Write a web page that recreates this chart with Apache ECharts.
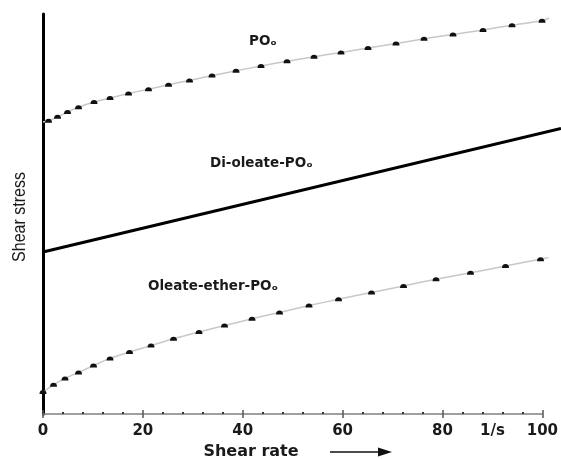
<!DOCTYPE html>
<html>
<head>
<meta charset="utf-8">
<script src="https://cdn.jsdelivr.net/npm/echarts@6/dist/echarts.min.js"></script>
<style>
  html, body { margin: 0; padding: 0; background: #fff; }
  #chart { width: 561px; height: 459px; }
</style>
</head>
<body>
<div id="chart"></div>
<script>
// PO0 curve (x = shear rate, y = shear stress in arbitrary units 0..100)
const xTop = [0, 1.1, 2.9, 4.9, 7.1, 10.2, 13.4, 17.1, 21.1, 25.1, 29.3, 33.8, 38.6, 43.6, 48.8, 54.2, 59.6, 65, 70.6, 76.2, 82, 88, 93.8, 99.8, 101.2];
const yTop = [73, 73.3, 74.3, 75.5, 76.7, 78, 79, 80.1, 81.2, 82.3, 83.4, 84.6, 85.8, 87, 88.2, 89.3, 90.4, 91.5, 92.6, 93.8, 94.9, 96, 97.2, 98.3, 99];

// Di-oleate-PO0 straight line
const xDi = [0, 103.6];
const yDi = [40.5, 71.4];

// Oleate-ether-PO0 curve
const xLow = [0, 2.1, 4.4, 7.1, 10.1, 13.4, 17.3, 21.6, 26.1, 31.2, 36.3, 41.8, 47.3, 53.2, 59.1, 65.7, 72.1, 78.6, 85.5, 92.5, 99.5, 101.1];
const yLow = [5.5, 7.3, 8.9, 10.4, 12.1, 13.9, 15.5, 17.1, 18.8, 20.5, 22.1, 23.8, 25.4, 27.1, 28.7, 30.4, 32, 33.7, 35.3, 37, 38.7, 39.1];

// x axis labels
const labelVals = [0, 20, 40, 60, 80, 90, 100];
const labelText = ['0', '20', '40', '60', '80', '1/s', '100'];

const curveNames = ['POₒ', 'Di-oleate-POₒ', 'Oleate-ether-POₒ'];

const dome = 'path://M0,10 A10,9 0 0 1 20,10 Z';

function toData(xs, ys, bare) {
  return xs.map((x, i) => {
    const item = { value: [x, ys[i]] };
    if (bare.includes(i)) item.symbol = 'none';
    return item;
  });
}

function txt(text, x, y, size, align) {
  return {
    type: 'text', x: x, y: y,
    style: {
      text: text, fontFamily: 'DejaVu Sans', fontWeight: 'bold', fontSize: size,
      fill: '#1a1a1a', align: align || 'left', verticalAlign: 'middle'
    }
  };
}

const chart = echarts.init(document.getElementById('chart'));

chart.setOption({
  animation: false,
  grid: [
    { left: 43, top: 14, right: 0, height: 400 },
    { left: 43, top: 14, width: 500, height: 400 }
  ],
  xAxis: [
    { gridIndex: 0, type: 'value', min: 0, max: 103.6, show: false },
    {
      gridIndex: 1, type: 'value', min: 0, max: 100, interval: 20, position: 'bottom',
      axisLine: { show: true, lineStyle: { color: '#808080', width: 1.5 } },
      axisTick: { show: true, inside: true, length: 4, lineStyle: { color: '#555', width: 1.5 } },
      minorTick: { show: true, splitNumber: 5, length: 2, lineStyle: { color: '#333', width: 2 } },
      axisLabel: {
        customValues: labelVals,
        formatter: v => labelText[labelVals.indexOf(v)],
        margin: 10, fontFamily: 'DejaVu Sans', fontWeight: 'bold', fontSize: 15, color: '#1a1a1a'
      },
      splitLine: { show: false }
    },
    {
      gridIndex: 1, type: 'value', min: 0, max: 100, interval: 20, position: 'bottom',
      axisLine: { show: false },
      axisTick: { show: true, inside: false, length: 4, lineStyle: { color: '#555', width: 1.5 } },
      axisLabel: { show: false },
      splitLine: { show: false }
    }
  ],
  yAxis: [
    {
      gridIndex: 0, type: 'value', min: 0, max: 100,
      axisLine: { show: true, lineStyle: { color: '#000', width: 3 } },
      axisTick: { show: false }, axisLabel: { show: false }, splitLine: { show: false }
    },
    { gridIndex: 1, type: 'value', min: 0, max: 100, show: false }
  ],
  series: [
    {
      name: curveNames[0], type: 'line', xAxisIndex: 0, yAxisIndex: 0,
      data: toData(xTop, yTop, [0, xTop.length - 1]),
      smooth: 0.2, symbol: dome, symbolSize: [7, 4],
      itemStyle: { color: '#111' },
      lineStyle: { color: '#c8c8c8', width: 1.5 }
    },
    {
      name: curveNames[1], type: 'line', xAxisIndex: 0, yAxisIndex: 0,
      data: xDi.map((x, i) => [x, yDi[i]]),
      symbol: 'none', lineStyle: { color: '#000', width: 3 }
    },
    {
      name: curveNames[2], type: 'line', xAxisIndex: 0, yAxisIndex: 0,
      data: toData(xLow, yLow, [xLow.length - 1]),
      smooth: 0.2, symbol: dome, symbolSize: [7, 4],
      itemStyle: { color: '#111' },
      lineStyle: { color: '#c8c8c8', width: 1.5 }
    }
  ],
  graphic: [
    txt(curveNames[0], 249, 41, 13.5),
    txt(curveNames[1], 210, 163, 13.5),
    txt(curveNames[2], 148, 286, 13.5),
    txt('Shear rate', 251, 452, 16, 'center'),
    {
      type: 'text', x: 20, y: 217, rotation: Math.PI / 2, scaleY: 1.2,
      style: {
        text: 'Shear stress', fontFamily: 'Liberation Sans', fontSize: 16,
        fill: '#1a1a1a', align: 'center', verticalAlign: 'middle'
      }
    },
    { type: 'line', shape: { x1: 330, y1: 452, x2: 382, y2: 452 }, style: { stroke: '#111', lineWidth: 1.5 } },
    { type: 'polygon', shape: { points: [[378, 447.5], [392, 452], [378, 456.5]] }, style: { fill: '#111' } }
  ]
});
</script>
</body>
</html>
